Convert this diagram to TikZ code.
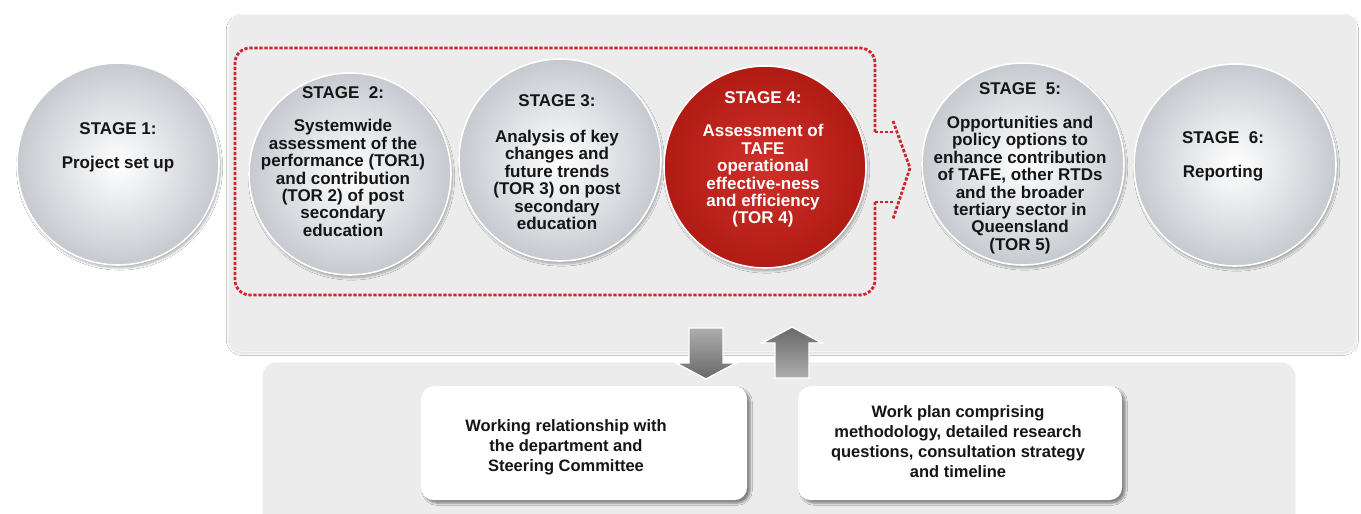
\documentclass[tikz,border=0pt]{standalone}
\usepackage{fontspec}
\setmainfont{Liberation Sans}
\usetikzlibrary{shadows.blur}

\definecolor{panelgray}{HTML}{ECECEC}
\definecolor{spheregray}{HTML}{C6CAD0}
\definecolor{redlight}{HTML}{D0302A}
\definecolor{reddark}{HTML}{B01B14}
\definecolor{dashred}{HTML}{D2232C}
\definecolor{inktext}{HTML}{151515}
\definecolor{arrowlight}{HTML}{AEAEAE}
\definecolor{arrowdark}{HTML}{686868}

\begin{document}
\begin{tikzpicture}[x=1pt,y=-1pt,
  panel/.style={rectangle, rounded corners=14pt, fill=panelgray, draw=white!96!black,
    line width=0.8pt, anchor=north west, inner sep=0pt},
  sphere/.style={circle, draw=white, line width=1.6pt, minimum size=202pt, inner sep=0pt,
    inner color=white, outer color=spheregray,
    blur shadow={shadow xshift=1.5pt, shadow yshift=-3pt, shadow blur steps=8, shadow opacity=30}},
  redsphere/.style={sphere, inner color=redlight, outer color=reddark},
  stagetext/.style={anchor=north, inner sep=0pt, align=center, text=inktext,
    font=\bfseries\fontsize{17}{17.4}\selectfont},
  notebox/.style={rectangle, rounded corners=13pt, fill=white, anchor=north west, inner sep=0pt,
    blur shadow={shadow xshift=3pt, shadow yshift=-3pt, shadow blur steps=6, shadow opacity=45}},
  notetext/.style={inner sep=0pt, align=center, text=inktext,
    font=\bfseries\fontsize{16.5}{20}\selectfont},
  redframe/.style={draw=dashred, line width=2.8pt, dash pattern=on 3.2pt off 1.8pt},
  blockarrow/.style={draw=white, line width=1.4pt}
]
% page
\fill[white] (0,0) rectangle (1361,514);
\useasboundingbox (0,0) rectangle (1361,514);

% grey panels
\node[panel, minimum width=1128pt, minimum height=337pt,
  blur shadow={shadow xshift=0pt, shadow yshift=-2pt, shadow blur steps=6, shadow opacity=15}] (upper) at (228,14) {};
\node[panel, minimum width=1033pt, minimum height=170pt] (lower) at (262,362) {};

% stages
\node[sphere]    (s1) at (118,164) {};
\node[sphere]    (s2) at (350,174) {};
\node[sphere]    (s3) at (560,160) {};
\node[redsphere] (s4) at (765,167) {};
\node[sphere]    (s5) at (1023,164) {};
\node[sphere]    (s6) at (1235,165) {};

\node[stagetext] (t1) at (118,122) {STAGE 1:\\[17pt]Project set up};
\node[stagetext] (t2) at (343,86) {STAGE\ \ 2:\\[16.5pt]Systemwide\\assessment of the\\performance (TOR1)\\and contribution\\(TOR 2) of post\\secondary\\education};
\node[stagetext] (t3) at (557,94) {STAGE 3:\\[19pt]Analysis of key\\changes and\\future trends\\(TOR 3) on post\\secondary\\education};
\node[stagetext, text=white] (t4) at (763,91) {STAGE 4:\\[16.5pt]Assessment of\\TAFE\\operational\\effective-ness\\and efficiency\\(TOR 4)};
\node[stagetext] (t5) at (1020,82) {STAGE\ \ 5:\\[17pt]Opportunities and\\policy options to\\enhance contribution\\of TAFE, other RTDs\\and the broader\\tertiary sector in\\Queensland\\(TOR 5)};
\node[stagetext] (t6) at (1223,131) {STAGE\ \ 6:\\[17pt]Reporting};

% dashed frame around stages 2 to 4, opening into a chevron towards stage 5
\coordinate (stubA) at (893,132);
\coordinate (stubB) at (893,202);
\draw[redframe, rounded corners=15pt] (875,132) -- (875,48) -- (235,48) -- (235,295) -- (875,295) -- (875,202);
\draw[redframe] (875,132) -- (stubA);
\draw[redframe] (875,202) -- (stubB);
\draw[redframe] (893,121) -- (910,168) -- (893,219);

% block arrows between the panels
\draw[blockarrow, top color=arrowlight, bottom color=arrowdark]
  (689,328) -- (723,328) -- (723,363) -- (736,363) -- (706,379) -- (676,363) -- (689,363) -- cycle;
\draw[blockarrow, top color=arrowdark, bottom color=arrowlight]
  (792,327) -- (822,343) -- (809,343) -- (809,378) -- (775,378) -- (775,343) -- (762,343) -- cycle;

% notes
\node[notebox, minimum width=326pt, minimum height=114pt] (b1) at (421,386) {};
\node[notebox, minimum width=324pt, minimum height=114pt] (b2) at (798,386) {};
\node[notetext] (n1) at (566,447) {Working relationship with\\the department and\\Steering Committee};
\node[notetext] (n2) at (958,442) {Work plan comprising\\methodology, detailed research\\questions, consultation strategy\\and timeline};
\end{tikzpicture}
\end{document}
